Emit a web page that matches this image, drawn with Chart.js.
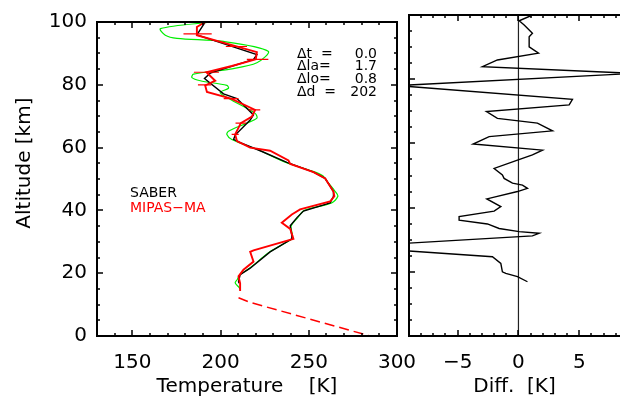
<!DOCTYPE html>
<html>
<head>
<meta charset="utf-8">
<script src="https://cdn.jsdelivr.net/npm/chart.js@4.4.1/dist/chart.umd.min.js"></script>
<style>
    html, body { margin: 0; padding: 0; background: #fff; }
    #wrap { position: relative; width: 620px; height: 401px; }
    canvas { position: absolute; left: 0; top: 0; }
</style>
</head>
<body>
<div id="wrap">
    <canvas id="tempChart" width="620" height="401"></canvas>
    <canvas id="diffChart" width="620" height="401"></canvas>
</div>
<script>
// SABER profile (black)
const saberAlt = [100, 95.9, 89.6, 88.1, 83.7, 82.0, 77.1, 75.6, 70.4, 68.8, 64.0, 62.6, 61.6, 59.0, 55.3, 52.2, 50.2, 46.0, 44.5, 42.4, 39.8, 37.7, 35.1, 32.0, 30.9, 26.8, 21.6, 19.5, 17.4, 16.8];
const saberT   = [191.3, 186.6, 220.6, 218.7, 194.2, 190.9, 201.7, 209.3, 218.7, 216.8, 208.3, 207.4, 211.2, 222.5, 237.6, 252.7, 259.3, 264.0, 264.0, 262.1, 247.0, 243.3, 239.5, 240.4, 240.4, 228.1, 216.8, 211.1, 210.2, 210.5];

// MIPAS-MA profile (red)
const mipasAlt = [100, 98.4, 95.8, 90.4, 88.1, 86.0, 84.0, 81.3, 79.8, 77.7, 75.6, 72.0, 69.9, 67.8, 64.2, 62.1, 60.0, 59.0, 55.9, 54.8, 52.2, 50.2, 46.0, 44.5, 42.9, 40.3, 38.7, 36.1, 34.1, 30.9, 27.3, 26.8, 23.7, 21.1, 19.0, 16.8, 14.3];
const mipasT   = [191.3, 186.6, 186.6, 220.6, 220.0, 206.4, 192.0, 197.0, 191.3, 192.3, 206.0, 219.6, 217.8, 211.5, 208.3, 209.3, 216.8, 228.1, 238.5, 239.5, 252.7, 259.3, 264.0, 264.5, 262.1, 245.1, 240.4, 234.7, 239.5, 241.3, 218.7, 216.8, 218.7, 213.0, 210.2, 211.1, 211.1];

// MIPAS-MA error bars
const errAlt  = [96.2, 92.2, 88.1, 84.0, 80.0, 75.6, 72.0, 67.8, 64.2];
const errT    = [187.0, 209.0, 221.0, 192.0, 191.0, 206.0, 219.2, 211.5, 208.3];
const errHalf = [8.0, 6.0, 6.1, 7.1, 3.8, 4.2, 3.3, 3.0, 2.0];

// MIPAS-MA a priori below retrieval (red dashed)
const aprioriAlt = [12.2, 10.7, 0];
const aprioriT   = [210.2, 216.8, 284.8];

// third profile (green)
const greenAlt = [100, 97.9, 95.8, 94.8, 93.8, 90.7, 87.0, 85.0, 83.4, 82.3, 81.3, 79.8, 78.9, 77.5, 75.1, 70.9, 69.4, 67.8, 65.2, 64.2, 62.6, 59.0, 55.3, 52.5, 51.0, 49.5, 46.0, 44.5, 42.4, 40.0, 37.7, 35.0, 32.0, 30.9, 26.8, 21.6, 19.5, 18.0, 16.9, 15.5, 14.9];
const greenT   = [195.1, 166.0, 168.7, 175.3, 201.7, 227.0, 220.6, 205.5, 184.7, 183.8, 188.5, 203.6, 204.5, 199.8, 206.4, 219.6, 220.6, 214.9, 204.5, 203.6, 206.4, 222.5, 237.0, 252.0, 258.0, 260.0, 265.0, 266.5, 263.0, 247.5, 243.8, 240.0, 240.8, 240.4, 228.0, 216.5, 211.0, 209.5, 208.3, 210.5, 211.1];

// SABER - MIPAS difference
const diffAlt = [100, 98.2, 96.9, 94.3, 93.2, 90.1, 88.1, 86.0, 83.9, 81.8, 78.0, 73.7, 72.0, 69.9, 67.8, 66.3, 63.9, 62.1, 59.8, 57.9, 56.4, 54.8, 52.2, 50.2, 49.1, 47.6, 47.0, 46.0, 45.0, 42.7, 40.3, 38.9, 37.2, 36.1, 34.9, 33.5, 32.5, 32.0, 31.2, 27.8, 24.7, 22.6, 20.0, 19.5, 18.5, 16.9];
const diffK   = [1.15, 0.06, 0.47, 1.15, 0.88, 0.88, 1.65, -1.73, -2.96, 9.5, -10.0, 4.44, 4.17, -2.63, -1.73, 1.56, 2.8, -2.41, -3.73, 1.98, 1.15, -0.08, -2.0, -1.32, -1.18, -0.49, 0.33, 0.74, -0.08, -2.6, -1.45, -2.0, -4.88, -4.88, -2.55, -1.59, 0.06, 1.7, 1.15, -14.0, -2.14, -1.45, -1.32, -1.04, -0.08, 0.74];

// ticks and labels
const tempTicks = [150, 200, 250, 300];
const altTicks = [0, 20, 40, 60, 80, 100];
const diffTicks = [-5, 0, 5];
const statLabels = ['\u0394t  =', '\u0394la=', '\u0394lo=', '\u0394d  ='];
const statValues = ['0.0', '1.7', '0.8', '202'];
const legendNames = ['SABER', 'MIPAS\u2212MA'];
const legendColors = ['#000000', '#ff0000'];

const FONT = '"DejaVu Sans", sans-serif';

function pts(xs, ys) {
    return xs.map((v, i) => ({ x: v, y: ys[i] }));
}

// error bars as one broken line
const errData = [];
errAlt.forEach((a, i) => {
    errData.push({ x: errT[i] - errHalf[i], y: a });
    errData.push({ x: errT[i] + errHalf[i], y: a });
    errData.push({ x: errT[i], y: null });
});

function isMajor(v, step) {
    const r = v / step;
    return Math.abs(r - Math.round(r)) < 1e-6;
}

// IDL-style box with inward ticks
const frameTicks = {
    id: 'frameTicks',
    afterDraw(chart, args, opts) {
        const { ctx, chartArea: a, scales: { x, y } } = chart;
        const L = Math.round(a.left), R = Math.round(a.right), T = Math.round(a.top), B = Math.round(a.bottom);
        ctx.save();
        ctx.setLineDash([]);
        ctx.strokeStyle = '#000000';
        ctx.lineWidth = 2;
        ctx.beginPath();
        ctx.moveTo(L, T); ctx.lineTo(opts.closed ? R : R + 5, T);
        ctx.moveTo(L, B); ctx.lineTo(opts.closed ? R : R + 5, B);
        ctx.moveTo(L, T - 1); ctx.lineTo(L, B + 1);
        if (opts.closed) { ctx.moveTo(R, T - 1); ctx.lineTo(R, B + 1); }
        ctx.stroke();

        ctx.lineWidth = 1.5;
        ctx.beginPath();
        for (let i = Math.ceil(x.min / opts.xMinor); i * opts.xMinor <= x.max + 1e-9; i++) {
            const v = i * opts.xMinor;
            const px = Math.round(x.getPixelForValue(v));
            const len = isMajor(v, opts.xMajor) ? 6 : 3;
            ctx.moveTo(px, B); ctx.lineTo(px, B - len);
            ctx.moveTo(px, T); ctx.lineTo(px, T + len);
        }
        for (let i = Math.ceil(y.min / opts.yMinor); i * opts.yMinor <= y.max + 1e-9; i++) {
            const v = i * opts.yMinor;
            const py = Math.round(y.getPixelForValue(v));
            const len = isMajor(v, opts.yMajor) ? 6 : 3;
            ctx.moveTo(L, py); ctx.lineTo(L + len, py);
            if (opts.closed) { ctx.moveTo(R, py); ctx.lineTo(R - len, py); }
        }
        ctx.stroke();
        ctx.restore();
    }
};

// stats box and legend text
const annotations = {
    id: 'annotations',
    afterDraw(chart) {
        const { ctx } = chart;
        ctx.save();
        ctx.font = '14px ' + FONT;
        ctx.textBaseline = 'middle';
        ctx.fillStyle = '#000';
        statLabels.forEach((s, i) => {
            ctx.textAlign = 'left';
            ctx.fillText(s, 297, 54 + i * 12.8);
            ctx.textAlign = 'right';
            ctx.fillText(statValues[i], 377, 54 + i * 12.8);
        });
        ctx.textAlign = 'left';
        legendNames.forEach((s, i) => {
            ctx.fillStyle = legendColors[i];
            ctx.fillText(s, 130, 193 + i * 15);
        });
        ctx.restore();
    }
};

const tickFont = { family: FONT, size: 20 };
const minusFmt = v => String(v).replace('-', '\u2212');

document.addEventListener('DOMContentLoaded', function () {
    // Temperature profiles
    new Chart(document.getElementById('tempChart'), {
        type: 'line',
        data: {
            datasets: [{
                label: 'MIPAS-MA error',
                data: errData,
                borderColor: '#ff0000',
                borderWidth: 1.2,
                spanGaps: false
            }, {
                label: 'MIPAS-MA',
                data: pts(mipasT, mipasAlt),
                borderColor: '#ff0000',
                borderWidth: 1.9
            }, {
                label: 'a priori',
                data: pts(aprioriT, aprioriAlt),
                borderColor: '#ff0000',
                borderWidth: 1.5,
                borderDash: [10, 5]
            }, {
                label: 'SABER',
                data: pts(saberT, saberAlt),
                borderColor: '#000000',
                borderWidth: 1.4
            }, {
                label: 'other',
                data: pts(greenT, greenAlt),
                borderColor: '#00ee00',
                borderWidth: 1.2,
                tension: 0.3
            }]
        },
        options: {
            responsive: false,
            animation: false,
            elements: { point: { radius: 0 }, line: { tension: 0 } },
            layout: { padding: { left: 0, top: 15, right: 223, bottom: 0 } },
            scales: {
                x: {
                    type: 'linear',
                    min: 130,
                    max: 300,
                    afterBuildTicks: s => { s.ticks = tempTicks.map(v => ({ value: v })); },
                    afterFit: s => { s.height = 65; },
                    grid: { display: false, drawTicks: false },
                    border: { display: false },
                    ticks: { color: '#000', font: tickFont, padding: 15, maxRotation: 0, autoSkip: false },
                    title: {
                        display: true,
                        text: 'Temperature    [K]',
                        color: '#000',
                        font: tickFont,
                        padding: { top: 0, bottom: 2 }
                    }
                },
                y: {
                    type: 'linear',
                    min: 0,
                    max: 100,
                    afterBuildTicks: s => { s.ticks = altTicks.map(v => ({ value: v })); },
                    afterFit: s => { s.width = 97; },
                    grid: { display: false, drawTicks: false },
                    border: { display: false },
                    ticks: { color: '#000', font: tickFont, padding: 10 },
                    title: {
                        display: true,
                        text: '\u00a0\u00a0\u00a0\u00a0\u00a0Altitude [km]',
                        color: '#000',
                        font: tickFont,
                        padding: { top: 13, bottom: 0 }
                    }
                }
            },
            plugins: {
                legend: { display: false },
                tooltip: { enabled: false },
                frameTicks: { closed: true, xMinor: 10, xMajor: 50, yMinor: 5, yMajor: 20 }
            }
        },
        plugins: [frameTicks, annotations]
    });

    // Difference profile
    new Chart(document.getElementById('diffChart'), {
        type: 'line',
        data: {
            datasets: [{
                label: 'Diff',
                data: pts(diffK, diffAlt),
                borderColor: '#000000',
                borderWidth: 1.4
            }, {
                label: 'zero',
                data: [{ x: 0, y: 0 }, { x: 0, y: 100 }],
                borderColor: '#222222',
                borderWidth: 1.2
            }]
        },
        options: {
            responsive: false,
            animation: false,
            elements: { point: { radius: 0 }, line: { tension: 0 } },
            layout: { padding: { left: 0, top: 15, right: 0, bottom: 0 } },
            scales: {
                x: {
                    type: 'linear',
                    min: -9,
                    max: 8.35,
                    afterBuildTicks: s => { s.ticks = diffTicks.map(v => ({ value: v })); },
                    afterFit: s => { s.height = 65; },
                    grid: { display: false, drawTicks: false },
                    border: { display: false },
                    ticks: { color: '#000', font: tickFont, padding: 15, maxRotation: 0, autoSkip: false, callback: minusFmt },
                    title: {
                        display: true,
                        text: 'Diff.  [K]',
                        color: '#000',
                        font: tickFont,
                        padding: { top: 0, bottom: 2 }
                    }
                },
                y: {
                    type: 'linear',
                    min: 0,
                    max: 100,
                    afterFit: s => { s.width = 409; },
                    grid: { display: false, drawTicks: false },
                    border: { display: false },
                    ticks: { display: false }
                }
            },
            plugins: {
                legend: { display: false },
                tooltip: { enabled: false },
                frameTicks: { closed: false, xMinor: 1, xMajor: 5, yMinor: 5, yMajor: 20 }
            }
        },
        plugins: [frameTicks]
    });
});
</script>
</body>
</html>
